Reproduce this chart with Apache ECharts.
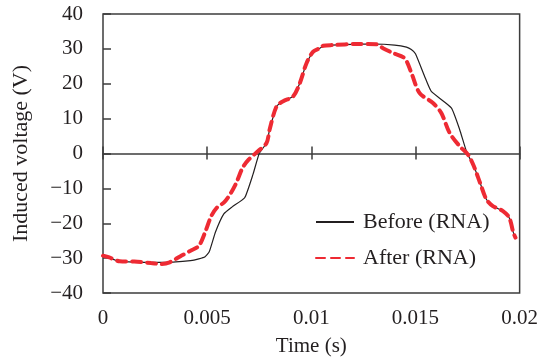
<!DOCTYPE html>
<html>
<head>
<meta charset="utf-8">
<script src="https://cdn.jsdelivr.net/npm/echarts@6/dist/echarts.min.js"></script>
<style>
html, body {
  margin: 0;
  padding: 0;
  background-color: #FFF;
}
#chart {
  width: 541px;
  height: 362px;
}
</style>
</head>
<body>
<div id="chart"></div>
<script>
// Before (RNA): time (s) / induced voltage (V)
const beforeTime = [0, 0.0006, 0.001, 0.002, 0.003, 0.0042, 0.0046, 0.0049, 0.0051, 0.0054, 0.0058, 0.0062, 0.0068, 0.0072, 0.0075,
  0.00785, 0.008, 0.00833, 0.00865, 0.00913, 0.00945, 0.00977, 0.01009, 0.01041, 0.0106, 0.011, 0.012, 0.013, 0.014, 0.01457, 0.0148, 0.015,
  0.01544, 0.01576, 0.01672, 0.01712, 0.01747, 0.0178, 0.0181, 0.0184, 0.0187, 0.0192, 0.0195, 0.0197, 0.0198]
const beforeVolt = [-29.0, -30.6, -31.0, -31.2, -31.2, -30.7, -30.2, -29.6, -28.2, -22.5, -17.3, -15.3, -12.7, -6.0, 0,
  3.0, 6.9, 13.5, 15.0, 16.4, 20.2, 25.9, 29.2, 30.2, 30.9, 31.1, 31.3, 31.4, 31.1, 30.5, 29.8, 28.6,
  22.1, 17.8, 13.1, 6.9, 0.2, -3.6, -8.4, -13.1, -15.0, -16.5, -18.4, -22.7, -24.1]

// After (RNA)
const afterTime = [0, 0.0003, 0.0008, 0.0015, 0.0023, 0.0028, 0.0032, 0.0037, 0.0042, 0.0046, 0.0049, 0.0052, 0.0055, 0.0058, 0.0061,
  0.0064, 0.0067, 0.007, 0.00745, 0.00785, 0.008, 0.00833, 0.00865, 0.00913, 0.00945, 0.00977, 0.01009, 0.01041, 0.01057, 0.01105,
  0.01217, 0.01313, 0.01344, 0.01392, 0.01448, 0.01481, 0.0152, 0.01584, 0.01624, 0.01664, 0.01712, 0.01752,
  0.0178, 0.0181, 0.0184, 0.0187, 0.0192, 0.0195, 0.0197, 0.0198]
const afterVolt = [-29.3, -29.8, -30.9, -31.0, -31.4, -31.7, -31.2, -29.5, -27.9, -26.5, -22.6, -17.9, -15.3, -14.1, -11.7,
  -8.4, -4.1, -1.7, 0.7, 3.0, 6.9, 13.5, 15.0, 16.4, 20.2, 25.9, 29.2, 30.2, 30.9, 31.1,
  31.4, 31.3, 30.2, 28.8, 27.3, 23.0, 17.3, 14.5, 11.6, 5.9, 2.1, -0.3,
  -3.6, -8.4, -13.1, -15.0, -16.5, -18.4, -22.7, -24.1]

const xTicks = [0, 0.005, 0.01, 0.015, 0.02]
const xTickLabels = ['0', '0.005', '0.01', '0.015', '0.02']

const font = 'Liberation Serif'
const textColor = '#231F20'
const axisColor = '#3C3C3C'

const chart = echarts.init(document.getElementById('chart'))

const baseX = {
  type: 'value',
  min: 0,
  max: 0.02,
  interval: 0.005,
  splitLine: { show: false }
}

const option = {
  animation: false,
  grid: {
    left: 103,
    right: 21,
    top: 14,
    bottom: 68,
    show: true,
    borderColor: axisColor,
    borderWidth: 1.5
  },
  legend: {
    orient: 'vertical',
    left: 315,
    top: 211,
    padding: 0,
    itemWidth: 38,
    itemHeight: 14,
    itemGap: 14,
    itemStyle: { opacity: 0 },
    textStyle: {
      fontFamily: font,
      fontSize: 22,
      lineHeight: 22,
      color: textColor,
      padding: [0, 0, 0, 4]
    },
    data: ['Before (RNA)', 'After (RNA)']
  },
  xAxis: [
    Object.assign({}, baseX, {
      position: 'bottom',
      axisLine: { show: false, onZero: false },
      axisTick: { show: false },
      axisLabel: {
        margin: 15,
        fontFamily: font,
        fontSize: 21,
        color: textColor,
        formatter: v => xTickLabels[xTicks.findIndex(t => Math.abs(t - v) < 1e-9)]
      },
      name: 'Time (s)',
      nameLocation: 'middle',
      nameGap: 43,
      nameTextStyle: { fontFamily: font, fontSize: 21, color: textColor }
    }),
    // zero line with ticks below it
    Object.assign({}, baseX, {
      position: 'bottom',
      axisLine: { show: true, onZero: true, onZeroAxisIndex: 0, lineStyle: { color: axisColor, width: 1.5 } },
      axisTick: { show: true, inside: false, length: 6, lineStyle: { color: axisColor, width: 1.5 } },
      axisLabel: { show: false }
    }),
    // ticks above the zero line
    Object.assign({}, baseX, {
      position: 'bottom',
      axisLine: { show: false, onZero: true, onZeroAxisIndex: 0 },
      axisTick: { show: true, inside: true, length: 7, lineStyle: { color: axisColor, width: 1.5 } },
      axisLabel: { show: false }
    })
  ],
  yAxis: {
    type: 'value',
    min: -40,
    max: 40,
    interval: 10,
    splitLine: { show: false },
    axisLine: { show: false, onZero: false },
    axisTick: { show: true, inside: true, length: 8, lineStyle: { color: axisColor, width: 1.5 } },
    axisLabel: {
      margin: 20,
      fontFamily: font,
      fontSize: 21,
      color: textColor,
      formatter: v => (v < 0 ? '\u2212' + (-v) : '' + v)
    },
    name: 'Induced voltage (V)',
    nameLocation: 'middle',
    nameGap: 71,
    nameTextStyle: { fontFamily: font, fontSize: 22, color: textColor }
  },
  series: [
    {
      name: 'Before (RNA)',
      type: 'line',
      xAxisIndex: 0,
      symbol: 'none',
      smooth: 0.15,
      lineStyle: { color: '#231F20', width: 1.2 },
      itemStyle: { color: '#231F20' },
      data: beforeTime.map((t, i) => [t, beforeVolt[i]])
    },
    {
      name: 'After (RNA)',
      type: 'line',
      xAxisIndex: 0,
      symbol: 'none',
      smooth: 0.3,
      lineStyle: { color: '#EE2A33', width: 4, type: [9, 6], cap: 'round' },
      itemStyle: { color: '#EE2A33' },
      data: afterTime.map((t, i) => [t, afterVolt[i]])
    }
  ]
}

chart.setOption(option)
</script>
</body>
</html>
